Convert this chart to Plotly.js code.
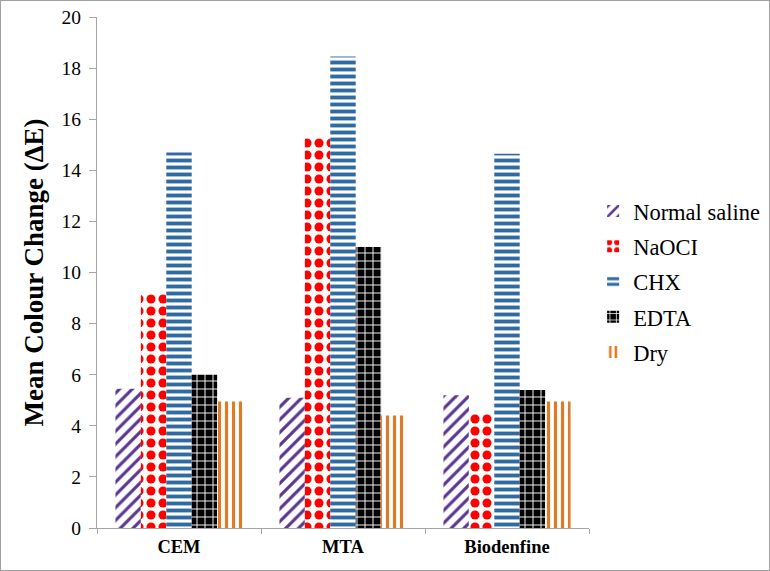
<!DOCTYPE html>
<html><head><meta charset="utf-8">
<script src="https://cdn.plot.ly/plotly-3.0.1.min.js"></script>
<style>html,body{margin:0;padding:0;background:#fff}#c{width:768px;height:569px;border:1px solid #a0a0a0}</style>
</head><body><div id="c"></div>
<script>
const categories = ["CEM", "MTA", "Biodenfine"];
const seriesNames = ["Normal saline", "NaOCI", "CHX", "EDTA", "Dry"];
const normalSaline = [5.45, 5.1, 5.2];
const naocl = [9.15, 15.25, 4.5];
const chx = [14.7, 18.45, 14.65];
const edta = [6.0, 11.0, 5.4];
const dry = [4.95, 4.4, 4.95];
const yTicks = [0, 2, 4, 6, 8, 10, 12, 14, 16, 18, 20];

const values = [normalSaline, naocl, chx, edta, dry];
const patterns = [
  {shape: "/", fgcolor: "#5a3592", bgcolor: "#ffffff", size: 9, solidity: 0.35},
  {shape: ".", fgcolor: "#ff0000", bgcolor: "#ffffff", size: 12, solidity: 0.45},
  {shape: "-", fgcolor: "#2f6aa3", bgcolor: "#ffffff", size: 7, solidity: 0.55},
  {shape: "+", fgcolor: "#ffffff", bgcolor: "#000000", size: 8, solidity: 0.22},
  {shape: "|", fgcolor: "#e07a24", bgcolor: "#ffffff", size: 7, solidity: 0.45}
];
const serif = '"Liberation Serif", "Times New Roman", serif';
const data = seriesNames.map((n, i) => ({
  type: "bar", name: n, x: categories, y: values[i], legendgroup: "g" + i,
  marker: {color: "#ffffff", line: {width: 0}, pattern: Object.assign({fillmode: "replace"}, patterns[i])},
  hoverinfo: "x+y+name"
}));
const layout = {
  width: 768, height: 569,
  margin: {l: 96, r: 180, t: 16, b: 42, autoexpand: false},
  paper_bgcolor: "#ffffff", plot_bgcolor: "#ffffff",
  barmode: "group", bargap: 0.225, bargroupgap: 0,
  font: {family: serif, color: "#000"},
  xaxis: {
    type: "category", showline: true, linecolor: "#a6a6a6", linewidth: 1,
    ticks: "outside", tickson: "boundaries", ticklen: 5, tickcolor: "#a6a6a6",
    tickfont: {size: 18.5, family: serif, weight: "bold"},
    ticklabelstandoff: 2,
    showgrid: false, zeroline: false
  },
  yaxis: {
    range: [0, 20], tickvals: yTicks, showline: true, linecolor: "#a6a6a6", linewidth: 1,
    ticks: "outside", ticklen: 7, tickcolor: "#a6a6a6", tickfont: {size: 19.5, family: serif},
    ticklabelstandoff: 4,
    showgrid: false, zeroline: false,
    title: {text: "<b>Mean Colour Change (ΔE)</b>", font: {size: 27, family: serif}, standoff: 10}
  },
  legend: {xref: "container", yref: "container", x: 0.771, y: 0.668, xanchor: "left", yanchor: "top",
    font: {size: 22.5, family: serif},
    traceorder: "grouped", tracegroupgap: 3, itemwidth: 30},
  showlegend: true
};
Plotly.newPlot("c", data, layout, {displayModeBar: false, staticPlot: true});
</script></body></html>
